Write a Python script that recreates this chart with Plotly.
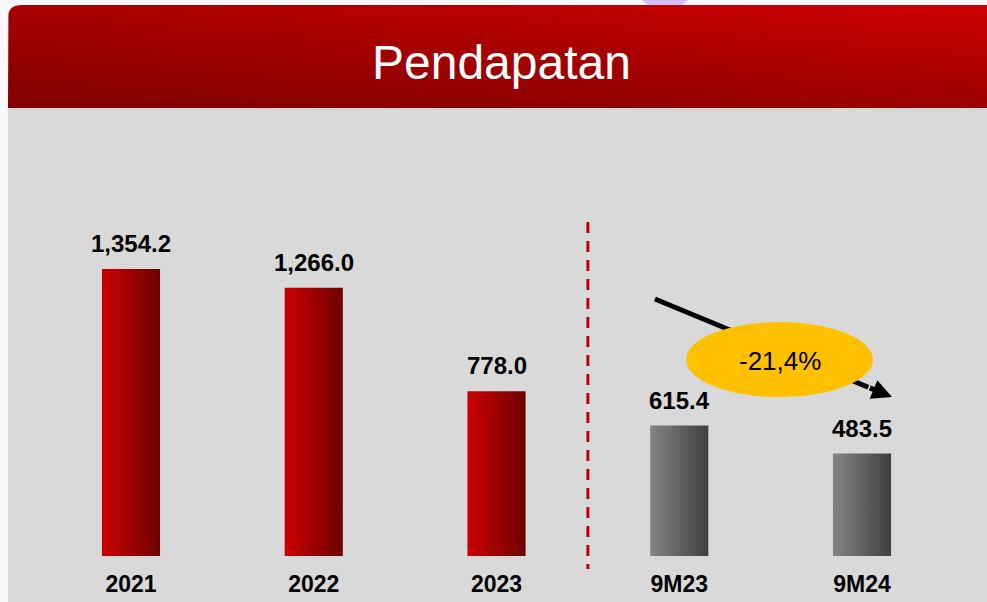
import numpy as np
import plotly.graph_objects as go

categories = ['2021', '2022', '2023', '9M23', '9M24']
revenue = [1354.2, 1266.0, 778.0, 615.4, 483.5]
value_labels = ['1,354.2', '1,266.0', '778.0', '615.4', '483.5']
bar_kind = ['year', 'year', 'year', 'nine_month', 'nine_month']
change_label = '-21,4%'
title_text = 'Pendapatan'

W, H = 987, 602
FONT = 'Liberation Sans, Arial, sans-serif'

# pixel frame of the bar plot area
PLOT_X0, PLOT_X1 = 39.6, 953.4
PLOT_Y_TOP, PLOT_Y_BASE = 108, 556
Y_MAX = (PLOT_Y_BASE - PLOT_Y_TOP) / 0.2119

gradients = {
    'year': [[0, '#cc0000'], [1, '#6e0000']],
    'nine_month': [[0, '#858585'], [1, '#3f3f3f']],
}
half_w = 0.159

fig = go.Figure()

# header band (full-figure pixel axes x2/y2)
r = 13
t = np.linspace(0, 1, 12)
cx = (1 - t) ** 2 * 8 + 2 * (1 - t) * t * 8 + t ** 2 * (8 + r)
cy = (1 - t) ** 2 * (5 + r) + 2 * (1 - t) * t * 5 + t ** 2 * 5
hx = [8] + list(cx) + [990, 990, 8]
hy = [108] + list(cy) + [5, 108, 108]
fig.add_trace(go.Scatter(
    x=hx, y=hy, xaxis='x2', yaxis='y2', mode='lines', line=dict(width=0),
    fill='toself', hoverinfo='skip', showlegend=False,
    fillgradient=dict(type='horizontal', start=8, stop=987,
                      colorscale=[[0, '#a80000'], [1, '#cc0000']]),
))
fig.add_trace(go.Scatter(
    x=hx, y=hy, xaxis='x2', yaxis='y2', mode='lines', line=dict(width=0),
    fill='toself', hoverinfo='skip', showlegend=False,
    fillgradient=dict(type='vertical', start=5, stop=108,
                      colorscale=[[0, 'rgba(0,0,0,0)'], [1, 'rgba(0,0,0,0.24)']]),
))

# bars as gradient-filled polygons
for i, (v, kind) in enumerate(zip(revenue, bar_kind)):
    fig.add_trace(go.Scatter(
        x=[i - half_w, i + half_w, i + half_w, i - half_w, i - half_w],
        y=[0, 0, v, v, 0],
        mode='lines', line=dict(width=0), fill='toself',
        fillgradient=dict(type='horizontal', start=i - half_w, stop=i + half_w,
                          colorscale=gradients[kind]),
        hoverinfo='skip', showlegend=False,
    ))
    fig.add_annotation(x=i, y=v, text=value_labels[i], showarrow=False,
                       yanchor='bottom', yshift=10,
                       font=dict(family=FONT, size=24, color='black', weight='bold'))

# trend arrow from 9M23 to 9M24
arrow_start = (2.867, 1213)
arrow_tip = (4.164, 750)
near_tip = (arrow_start[0] + 0.9 * (arrow_tip[0] - arrow_start[0]),
            arrow_start[1] + 0.9 * (arrow_tip[1] - arrow_start[1]))

shapes = [
    dict(type='rect', xref='paper', yref='paper', x0=8 / W, x1=1.01, y0=-0.01,
         y1=(H - 108) / H, fillcolor='#d9d9d9', line=dict(width=0), layer='below'),
    dict(type='circle', xref='paper', yref='paper', x0=640 / W, x1=690 / W,
         y0=(H - 8) / H, y1=1.03, fillcolor='rgba(190,150,235,0.6)',
         line=dict(width=0), layer='below'),
    dict(type='line', xref='x', yref='paper', x0=2.5, x1=2.5,
         y0=(H - 222) / H, y1=(H - 569) / H,
         line=dict(color='#c00000', width=3, dash='11px,8px')),
    dict(type='line', xref='x', yref='y', x0=arrow_start[0], y0=arrow_start[1],
         x1=near_tip[0], y1=near_tip[1], line=dict(color='black', width=5)),
    dict(type='circle', xref='x', yref='y', x0=3.037, x1=4.060, y0=750, y1=1104,
         fillcolor='#ffc000', line=dict(width=0)),
]

fig.add_annotation(x=arrow_tip[0], y=arrow_tip[1], ax=near_tip[0], ay=near_tip[1],
                   axref='x', ayref='y', text='', showarrow=True,
                   arrowhead=2, arrowsize=0.8, arrowwidth=5, arrowcolor='black')
fig.add_annotation(x=3.549, y=918, text=change_label, showarrow=False,
                   font=dict(family=FONT, size=26, color='black'))
fig.add_annotation(xref='paper', yref='paper', x=501 / W, y=(H - 62) / H,
                   xanchor='center', yanchor='middle',
                   text=title_text, showarrow=False,
                   font=dict(family=FONT, size=48, color='white'))

fig.update_layout(
    width=W, height=H,
    margin=dict(l=0, r=0, t=0, b=0),
    paper_bgcolor='#fbf8fd',
    plot_bgcolor='rgba(0,0,0,0)',
    showlegend=False,
    shapes=shapes,
    xaxis=dict(domain=[PLOT_X0 / W, PLOT_X1 / W], range=[-0.5, 4.5],
               tickvals=list(range(len(categories))), ticktext=categories,
               showgrid=False, zeroline=False, showline=False, ticks='',
               ticklabelstandoff=12,
               tickfont=dict(family=FONT, size=23, color='black', weight='bold')),
    yaxis=dict(domain=[(H - PLOT_Y_BASE) / H, (H - PLOT_Y_TOP) / H],
               range=[0, Y_MAX], visible=False),
    xaxis2=dict(domain=[0, 1], range=[0, W], visible=False, anchor='y2'),
    yaxis2=dict(domain=[0, 1], range=[H, 0], visible=False, anchor='x2'),
)

fig.write_html('out.html', config=dict(displayModeBar=False),
               post_script="document.body.style.margin='0';"
                           "document.body.style.overflow='hidden';")
